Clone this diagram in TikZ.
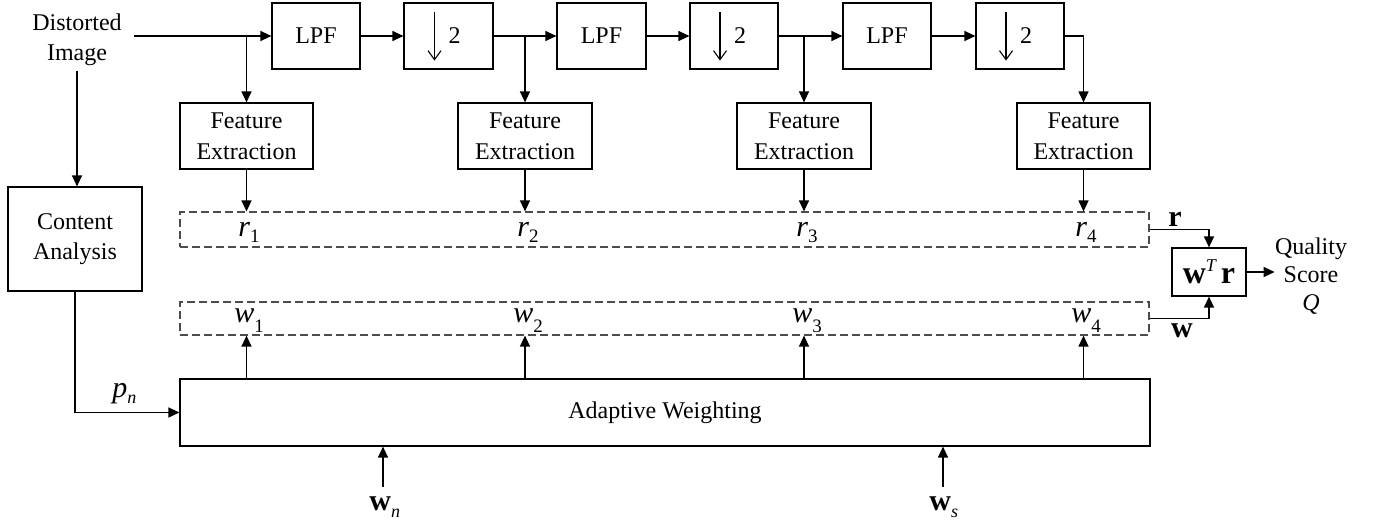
\documentclass[tikz,border=0pt]{standalone}
\usepackage{fontspec}
\setmainfont{Liberation Serif}
\usetikzlibrary{arrows.meta}
\newcommand{\isub}[3]{#1\raisebox{-#3}{\fontsize{9.5}{10}\selectfont #2}}
\begin{document}
\begin{tikzpicture}[x=0.5pt,y=-0.5pt,
  every node/.style={font=\fontsize{12}{15.5}\selectfont, inner sep=0pt},
  blk/.style={draw, line width=0.6pt, align=center},
  arr/.style={line width=0.65pt, -{Triangle[length=5.5pt,width=5pt]}},
  ln/.style={line width=0.65pt},
  dbox/.style={draw=black!70, line width=0.6pt, dash pattern=on 4pt off 2pt},
  mlab/.style={font=\fontsize{15}{15}\selectfont},
  blab/.style={font=\fontsize{15}{15}\selectfont\bfseries},
  dnarr/.style={line width=0.55pt, -{Straight Barb[length=4.5pt,width=6.5pt]}}
]
\useasboundingbox (0,0) rectangle (1375,523);

% input
\node[align=center, inner xsep=5.75pt, inner ysep=2.5pt, font=\fontsize{12}{15}\selectfont] (dist) at (77,39.5) {Distorted\\Image};

% top row
\node[blk, minimum width=44pt, minimum height=33pt] (L1) at (316,36) {LPF};
\node[blk, minimum width=44.5pt, minimum height=33pt] (D1) at (448.5,36) {\makebox[0pt][l]{2}};
\node[blk, minimum width=44.5pt, minimum height=33pt] (L2) at (601.5,36) {LPF};
\node[blk, minimum width=44pt, minimum height=33pt] (D2) at (734,36) {\makebox[0pt][l]{2}};
\node[blk, minimum width=44pt, minimum height=33pt] (L3) at (887,36) {LPF};
\node[blk, minimum width=44pt, minimum height=33pt] (D3) at (1020,36) {\makebox[0pt][l]{2}};

\foreach \d in {D1,D2,D3}
  \draw[dnarr] ([xshift=-7pt,yshift=-5pt]\d.north) -- ([xshift=-7pt,yshift=4.5pt]\d.south);

% feature extraction
\node[blk, minimum width=66.5pt, minimum height=33pt] (F1) at (246.5,136) {Feature\\Extraction};
\node[blk, minimum width=67pt, minimum height=33pt] (F2) at (525,136) {Feature\\Extraction};
\node[blk, minimum width=67pt, minimum height=33pt] (F3) at (804,136) {Feature\\Extraction};
\node[blk, minimum width=66.5pt, minimum height=33pt] (F4) at (1083.5,136) {Feature\\Extraction};

% content analysis
\node[blk, minimum width=67pt, minimum height=52pt, font=\fontsize{12}{15}\selectfont] (CA) at (75,239) {Content\\Analysis};

% dashed vectors
\node[dbox, minimum width=484.5pt, minimum height=17.5pt] (RB) at (664.5,229.5) {};
\node[dbox, minimum width=484.5pt, minimum height=16.5pt] (WB) at (664.5,318.5) {};

% adaptive weighting
\node[blk, minimum width=485pt, minimum height=33.5pt] (AW) at (665,412.5) {Adaptive Weighting};

% combiner
\node[blk, minimum width=37pt, minimum height=24pt] (WR) at (1209,272)
  {\fontsize{16}{16}\selectfont\bfseries w\raisebox{6pt}{\fontsize{9}{9}\selectfont\mdseries\itshape T}\hspace{2.5pt}r};
\node[align=center, font=\fontsize{12}{14}\selectfont] (QS) at (1311,276) {Quality\\Score\\\textit{Q}};

% labels
\node[mlab, anchor=base west] (r1) at (238,237) {\isub{\textit{r}}{1}{3pt}};
\node[mlab, anchor=base west] (r2) at (517,237) {\isub{\textit{r}}{2}{3pt}};
\node[mlab, anchor=base west] (r3) at (796,237) {\isub{\textit{r}}{3}{3pt}};
\node[mlab, anchor=base west] (r4) at (1075,237) {\isub{\textit{r}}{4}{3pt}};
\node[mlab, anchor=base west] (w1) at (234,323) {\isub{\textit{w}}{1}{5pt}};
\node[mlab, anchor=base west] (w2) at (513,323) {\isub{\textit{w}}{2}{5pt}};
\node[mlab, anchor=base west] (w3) at (792,323) {\isub{\textit{w}}{3}{5pt}};
\node[mlab, anchor=base west] (w4) at (1071,323) {\isub{\textit{w}}{4}{5pt}};
\node[mlab, anchor=base west] (pn) at (112,398) {\textit{p}\raisebox{-2.5pt}{\fontsize{9}{9}\selectfont\itshape n}};
\node[blab, anchor=base west] (wn) at (369,510) {w\raisebox{-3.5pt}{\fontsize{9}{9}\selectfont\mdseries\itshape n}};
\node[blab, anchor=base west] (ws) at (929,510) {w\raisebox{-3.5pt}{\fontsize{9}{9}\selectfont\mdseries\itshape s}};
\node[blab] (rl) at (1175,219) {r};
\node[blab] (wl) at (1182,331) {w};

\coordinate (wnc) at (383,487);
\coordinate (wsc) at (943,487);

% connectors: top chain
\draw[arr] (dist.east |- L1.west) -- (L1.west);
\draw[arr] (F1.north |- L1.west) -- (F1.north);
\draw[arr] (L1) -- (D1);
\draw[arr] (D1) -- (L2);
\draw[arr] (F2.north |- D1.east) -- (F2.north);
\draw[arr] (L2) -- (D2);
\draw[arr] (D2) -- (L3);
\draw[arr] (F3.north |- D2.east) -- (F3.north);
\draw[arr] (L3) -- (D3);
\draw[arr] (D3.east) -| (F4.north);

% features to r
\foreach \f in {F1,F2,F3,F4}
  \draw[arr] (\f.south) -- (\f.south |- RB.north);
% adaptive weighting to w
\foreach \f in {F1,F2,F3,F4}
  \draw[arr] (AW.north -| \f) -- (WB.south -| \f);

% content analysis
\draw[arr] (dist.south) -- (dist.south |- CA.north);
\draw[arr] (CA.south) |- (AW.west);

% combiner
\draw[arr] (RB.east) -| (WR.north);
\draw[arr] (WB.east) -| (WR.south);
\draw[arr] (WR.east) -- (WR.east -| QS.west);

% bottom inputs
\draw[arr] (wnc) -- (wnc |- AW.south);
\draw[arr] (wsc) -- (wsc |- AW.south);
\end{tikzpicture}
\end{document}
